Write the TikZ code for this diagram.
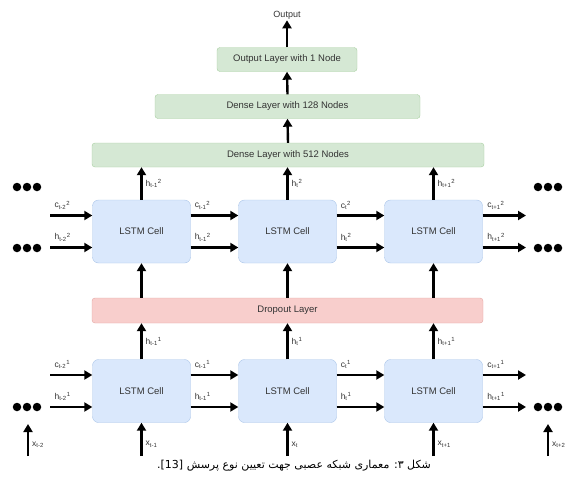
\documentclass[tikz,border=0pt]{standalone}
\usepackage{fontspec}
\setmainfont{Liberation Sans}
\newfontfamily\arabicfont[Script=Arabic]{DejaVu Sans}
\TeXXeTstate=1
\usetikzlibrary{arrows.meta}
\definecolor{cellfill}{HTML}{DAE8FC}
\definecolor{celldraw}{HTML}{A9C4E8}
\definecolor{densefill}{HTML}{D5E8D4}
\definecolor{densedraw}{HTML}{A8CFA0}
\definecolor{dropfill}{HTML}{F8CECC}
\definecolor{dropdraw}{HTML}{E3A6A3}
\definecolor{txt}{HTML}{333333}
\tikzset{
  cell/.style={draw=celldraw, fill=cellfill, rounded corners=6pt, minimum width=98pt, minimum height=63pt, inner sep=0pt, font=\fontsize{9.5}{11}\selectfont, text=txt},
  dense/.style={draw=densedraw, fill=densefill, rounded corners=3pt, minimum height=24pt, inner sep=0pt, font=\fontsize{9.5}{11}\selectfont, text=txt},
  drop/.style={draw=dropdraw, fill=dropfill, rounded corners=3pt, minimum height=25pt, inner sep=0pt, font=\fontsize{9.5}{11}\selectfont, text=txt},
  conn/.style={line width=2.4pt, -{Triangle[length=8pt,width=9pt]}},
  lab/.style={font=\fontsize{8.5}{10}\selectfont, text=txt, inner sep=0pt},
  dot/.style={circle, fill=black, minimum size=8.5pt, inner sep=0pt}
}
\newcommand{\lbl}[3]{#1\textsubscript{#2}\textsuperscript{#3}}
\begin{document}
\begin{tikzpicture}[x=1pt,y=-1pt]
\useasboundingbox (0,0) rectangle (572,479);
% layers
\node[font=\fontsize{9}{10}\selectfont, text=txt, inner sep=1pt] (out) at (287,15) {Output};
\node[dense, minimum width=140pt] (ol) at (287,59.5) {Output Layer with 1 Node};
\node[dense, minimum width=265pt] (d128) at (287.5,106.5) {Dense Layer with 128 Nodes};
\node[dense, minimum width=392pt] (d512) at (288,155) {Dense Layer with 512 Nodes};
\node[drop, minimum width=391pt] (drop) at (287.5,310.5) {Dropout Layer};
% cells
\node[cell] (u1) at (141.5,231.5) {LSTM Cell};
\node[cell] (u2) at (287.5,231.5) {LSTM Cell};
\node[cell] (u3) at (433.5,231.5) {LSTM Cell};
\node[cell] (b1) at (141.5,391) {LSTM Cell};
\node[cell] (b2) at (287.5,391) {LSTM Cell};
\node[cell] (b3) at (433.5,391) {LSTM Cell};
% vertical top
\draw[conn] (ol.north) -- (out.south);
\draw[conn] (d128.north) -- (ol.south);
\draw[conn] (d512.north) -- (d128.south);
\foreach \c/\l in {u1/{\lbl{h}{t-1}{2}}, u2/{\lbl{h}{t}{2}}, u3/{\lbl{h}{t+1}{2}}}{
  \draw[conn] (\c.north) -- (\c.north |- d512.south) node[midway, right=3pt, lab] {\l};
  \draw[conn] (\c.south |- drop.north) -- (\c.south);
}
\foreach \c/\l in {b1/{\lbl{h}{t-1}{1}}, b2/{\lbl{h}{t}{1}}, b3/{\lbl{h}{t+1}{1}}}{
  \draw[conn] (\c.north) -- (\c.north |- drop.south) node[midway, right=3pt, lab] {\l};
}
% inputs
\coordinate (x1) at (141.5,456);
\coordinate (x2) at (287.5,456);
\coordinate (x3) at (433.5,456);
\coordinate (x0) at (28,456);
\coordinate (x4) at (548,456);
\coordinate (x0t) at (28,424);
\coordinate (x4t) at (548,424);
\draw[conn] (x1) -- (b1.south) node[pos=0.35, right=3pt, lab] {\lbl{x}{t-1}{}};
\draw[conn] (x2) -- (b2.south) node[pos=0.35, right=3pt, lab] {\lbl{x}{t}{}};
\draw[conn] (x3) -- (b3.south) node[pos=0.35, right=3pt, lab] {\lbl{x}{t+1}{}};
\draw[conn] (x0) -- (x0t) node[pos=0.35, right=3pt, lab] {\lbl{x}{t-2}{}};
\draw[conn] (x4) -- (x4t) node[pos=0.35, right=3pt, lab] {\lbl{x}{t+2}{}};
% horizontal connectors, top row (layer 2) and bottom row (layer 1)
\foreach \r/\L/\ra/\rb/\rc in {u/2/u1/u2/u3, b/1/b1/b2/b3}{
  \coordinate (\r cin) at ([yshift=16pt]\ra.west -| 50,0);
  \coordinate (\r hin) at ([yshift=-16pt]\ra.west -| 50,0);
  \coordinate (\r cout) at ([yshift=16pt]\rc.east -| 526,0);
  \coordinate (\r hout) at ([yshift=-16pt]\rc.east -| 526,0);
  \draw[conn] (\r cin) -- ([yshift=16pt]\ra.west) node[pos=0.08, above=5pt, anchor=south west, lab] {\lbl{c}{t-2}{\L}};
  \draw[conn] (\r hin) -- ([yshift=-16pt]\ra.west) node[pos=0.08, above=5pt, anchor=south west, lab] {\lbl{h}{t-2}{\L}};
  \draw[conn] ([yshift=16pt]\ra.east) -- ([yshift=16pt]\rb.west) node[pos=0.06, above=5pt, anchor=south west, lab] {\lbl{c}{t-1}{\L}};
  \draw[conn] ([yshift=-16pt]\ra.east) -- ([yshift=-16pt]\rb.west) node[pos=0.06, above=5pt, anchor=south west, lab] {\lbl{h}{t-1}{\L}};
  \draw[conn] ([yshift=16pt]\rb.east) -- ([yshift=16pt]\rc.west) node[pos=0.06, above=5pt, anchor=south west, lab] {\lbl{c}{t}{\L}};
  \draw[conn] ([yshift=-16pt]\rb.east) -- ([yshift=-16pt]\rc.west) node[pos=0.06, above=5pt, anchor=south west, lab] {\lbl{h}{t}{\L}};
  \draw[conn] ([yshift=16pt]\rc.east) -- (\r cout) node[pos=0.08, above=5pt, anchor=south west, lab] {\lbl{c}{t+1}{\L}};
  \draw[conn] ([yshift=-16pt]\rc.east) -- (\r hout) node[pos=0.08, above=5pt, anchor=south west, lab] {\lbl{h}{t+1}{\L}};
}
% dots
\foreach \y in {187,248,407}{
  \foreach \x in {17,27,37,538,548,558}{
    \node[dot] at (\x,\y) {};
  }
}
% caption
\node[font=\arabicfont\fontsize{11}{13}\selectfont, inner sep=0pt] (cap) at (294,466) {\beginR شکل ۳: معماری شبکه عصبی جهت تعیین نوع پرسش \beginL[13]\endL.\endR};
\end{tikzpicture}
\end{document}
